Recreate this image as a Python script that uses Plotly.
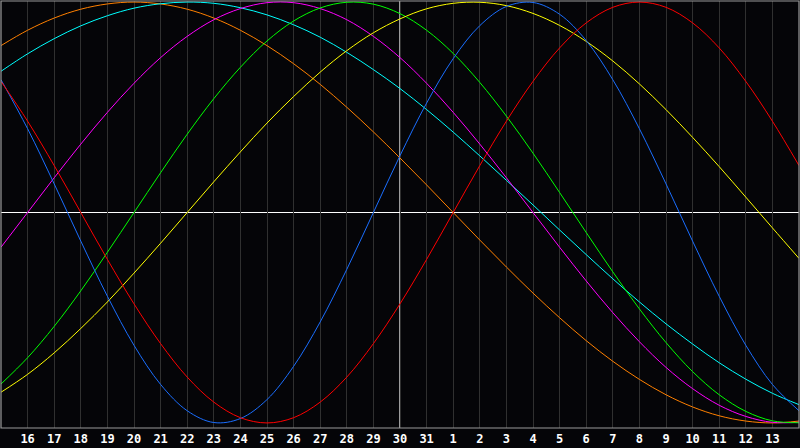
import plotly.graph_objects as go

# Дни на оси: от 15 числа до 14 следующего месяца (30 — сегодня, в центре)
days = ["15", "16", "17", "18", "19", "20", "21", "22", "23", "24", "25", "26", "27", "28", "29",
        "30", "31", "1", "2", "3", "4", "5", "6", "7", "8", "9", "10", "11", "12", "13", "14"]
today = "30"

# Значения ритмов по дням, в процентах
physical = [63.1, 39.8, 13.6, -13.6, -39.8, -63.1, -81.7, -94.2, -99.8, -97.9, -88.9, -73.1, -52.0, -27.0,
            0, 27.0, 52.0, 73.1, 88.8, 97.9, 99.8, 94.2, 81.7, 63.1, 39.8, 13.6, -13.6, -39.8, -63.1,
            -81.7, -94.2]
emotional = [62.3, 43.4, 22.3, 0, -22.3, -43.4, -62.3, -78.2, -90.1, -97.5, -100, -97.5, -90.1, -78.2,
             -62.3, -43.4, -22.3, 0, 22.3, 43.4, 62.3, 78.2, 90.1, 97.5, 100, 97.5, 90.1, 78.2, 62.3,
             43.4, 22.3]
intellectual = [-81.5, -69.0, -54.1, -37.2, -18.9, 0, 18.9, 37.2, 54.1, 69.0, 81.5, 91.0, 97.2, 99.9,
                99.0, 94.5, 86.6, 75.6, 61.8, 45.8, 28.2, 9.5, -9.5, -28.2, -45.8, -61.8, -75.6, -86.6,
                -94.5, -99.0, -99.9]
intuitive = [-16.5, 0, 16.5, 32.5, 47.6, 61.4, 73.6, 83.7, 91.6, 96.9, 99.7, 99.7, 96.9, 91.6, 83.7,
             73.6, 61.4, 47.6, 32.5, 16.5, 0, -16.5, -32.5, -47.6, -61.4, -73.6, -83.7, -91.6, -96.9,
             -99.7, -99.7]
aesthetic = [-85.4, -76.9, -66.7, -55.1, -42.5, -28.8, -14.6, 0, 14.6, 28.8, 42.5, 55.1, 66.7, 76.9,
             85.4, 92.0, 96.8, 99.4, 99.9, 98.3, 94.6, 88.9, 81.3, 72.0, 61.1, 48.9, 35.7, 21.8, 7.3,
             -7.3, -21.8]
awareness = [79.3, 86.6, 92.4, 96.6, 99.1, 100, 99.1, 96.6, 92.4, 86.6, 79.3, 70.7, 60.9, 50.0, 38.3,
             25.9, 13.1, 0, -13.1, -25.9, -38.3, -50.0, -60.9, -70.7, -79.3, -86.6, -92.4, -96.6, -99.1,
             -100, -99.1]
spiritual = [67.1, 75.4, 82.6, 88.7, 93.5, 97.1, 99.2, 100, 99.4, 97.3, 93.9, 89.2, 83.3, 76.1, 67.9,
             58.9, 48.9, 38.2, 26.9, 15.3, 3.6, -8.3, -20.0, -31.5, -42.5, -52.9, -62.5, -71.4, -79.2,
             -85.9, -91.3]

series = [
    ("Awareness", awareness, "#ff8000"),
    ("Spiritual", spiritual, "#00ffff"),
    ("Intuitive", intuitive, "#ff00ff"),
    ("Intellectual", intellectual, "#00ff00"),
    ("Aesthetic", aesthetic, "#ffff00"),
    ("Physical", physical, "#1a6eff"),
    ("Emotional", emotional, "#ff0000"),
]


def create_biorhythm_plot(filename: str = "out.html") -> None:
    x = list(range(len(days)))
    today_pos = days.index(today)

    fig = go.Figure()
    for name, values, color in series:
        fig.add_trace(go.Scatter(x=x, y=values, mode="lines", name=name,
                                 line=dict(color=color, width=1, shape="spline", smoothing=1.0),
                                 hoverinfo="skip"))

    # Белые оси: ноль и сегодняшний день
    fig.add_hline(y=0, line_color="#ffffff", line_width=1.2, layer="below")
    fig.add_vline(x=today_pos, line_color="#ffffff", line_width=1.2, layer="below")

    # Рамка вокруг области графика
    fig.add_shape(type="rect", xref="paper", yref="paper", x0=0, y0=0, x1=1, y1=1,
                  line=dict(color="#9a9a9a", width=1.2), layer="above")

    tick_idx = x[1:-1]
    fig.update_xaxes(range=[0, len(days) - 1], tickvals=tick_idx, ticktext=[days[i] for i in tick_idx],
                     showgrid=True, gridcolor="#303030", gridwidth=1, zeroline=False,
                     ticks="", ticklen=0, showline=False, ticklabelstandoff=2,
                     tickfont=dict(family="DejaVu Sans Mono", size=12, color="#ffffff", weight="bold"))
    fig.update_yaxes(range=[-102.4, 100.5], showgrid=False, zeroline=False, showticklabels=False,
                     ticks="", showline=False)

    fig.update_layout(
        width=800,
        height=448,
        margin=dict(l=1, r=1, t=1, b=20),
        paper_bgcolor="#050508",
        plot_bgcolor="#050508",
        showlegend=False,
    )

    # Убираем отступы страницы, чтобы график занял всё окно
    fig.write_html(filename, config={"displayModeBar": False},
                   post_script="document.body.style.margin='0';"
                               "document.body.style.overflow='hidden';"
                               "document.body.style.background='#050508';")


create_biorhythm_plot("out.html")
